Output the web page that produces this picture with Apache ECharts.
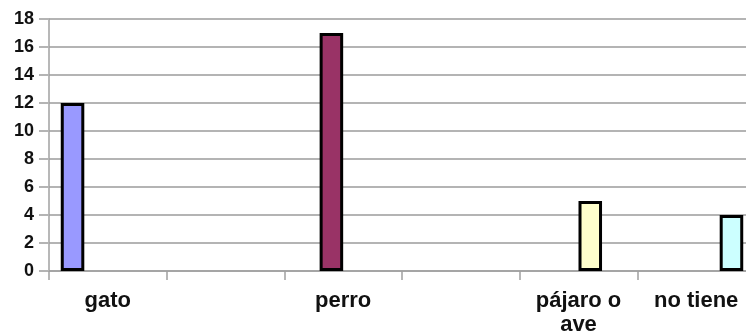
<!DOCTYPE html>
<html>
<head>
<meta charset="utf-8">
<script src="https://cdn.jsdelivr.net/npm/echarts@6/dist/echarts.min.js"></script>
<style>
  html, body { margin: 0; padding: 0; background: #fff; }
  #chart { width: 746px; height: 335px; }
</style>
</head>
<body>
<div id="chart"></div>
<script>
// Category slots along the x axis (two empty slots between groups)
const categories = ['gato', '', 'perro', '', 'pájaro o\nave', 'no tiene'];

// One series per answer; each holds its count in its own slot
const gatoValues    = [12, '-', '-', '-', '-', '-'];
const perroValues   = ['-', '-', 17, '-', '-', '-'];
const pajaroValues  = ['-', '-', '-', '-', 5, '-'];
const noTieneValues = ['-', '-', '-', '-', '-', 4];

const seriesNames  = ['gato', 'perro', 'pájaro o ave', 'no tiene'];
const seriesValues = [gatoValues, perroValues, pajaroValues, noTieneValues];
const seriesColors = ['#9999FF', '#993366', '#FFFFCC', '#CCFFFF'];

// Y axis ticks
const yMin = 0, yMax = 18, yStep = 2;

const font = 'Liberation Sans, Arial, sans-serif';
const chart = echarts.init(document.getElementById('chart'));

chart.setOption({
  animation: false,
  backgroundColor: '#ffffff',
  grid: {
    left: 49, top: 19, width: 706, height: 252,
    containLabel: false, outerBoundsMode: 'none'
  },
  xAxis: {
    type: 'category',
    data: categories,
    boundaryGap: true,
    axisLine: { show: true, lineStyle: { color: '#a0a0a0', width: 1.5 } },
    axisTick: { show: true, length: 9, lineStyle: { color: '#a0a0a0', width: 1.5 } },
    axisLabel: {
      interval: 0, margin: 18,
      fontFamily: font, fontWeight: 'bold', fontSize: 22, color: '#111',
      lineHeight: 24
    }
  },
  yAxis: {
    type: 'value',
    min: yMin, max: yMax, interval: yStep,
    axisLine: { show: true, lineStyle: { color: '#a0a0a0', width: 1.5 } },
    axisTick: { show: true, length: 10, lineStyle: { color: '#b4b4b4', width: 2 } },
    splitLine: { show: true, lineStyle: { color: '#b4b4b4', width: 2 } },
    axisLabel: {
      margin: 15,
      fontFamily: font, fontWeight: 'bold', fontSize: 18, color: '#111'
    }
  },
  series: seriesNames.map((name, i) => ({
    name: name,
    type: 'bar',
    data: seriesValues[i],
    barGap: '0%',
    barCategoryGap: '20%',
    itemStyle: { color: seriesColors[i], borderColor: '#000', borderWidth: 3 }
  }))
});
</script>
</body>
</html>
